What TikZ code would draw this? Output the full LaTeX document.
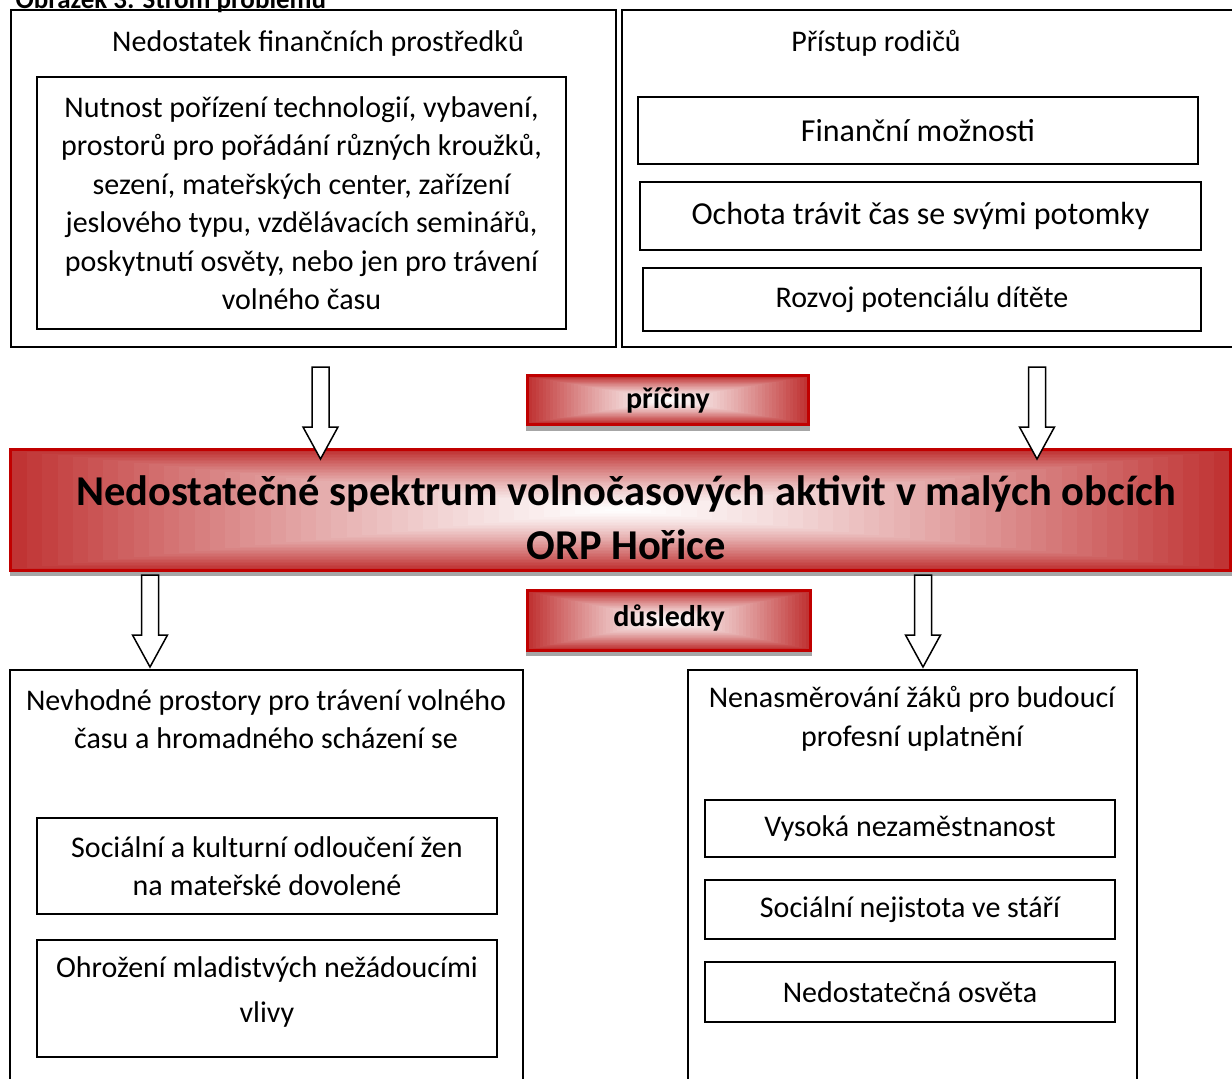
\documentclass[tikz,border=0pt]{standalone}
\usepackage{fontspec}
\setmainfont{Carlito}
\definecolor{bannerred}{RGB}{192,52,52}
\definecolor{bannerdark}{RGB}{192,0,0}
\definecolor{shadowgray}{RGB}{166,166,166}

\newcommand{\redbanner}[4]{%
    \fill[bannerdark] (#1,#2) rectangle (#3,#4);
    \foreach \i in {0,...,39} {
        \pgfmathsetmacro{\dx}{3+((#3-#1)/2-3)/40*\i}
        \pgfmathsetmacro{\dy}{3+((#4-#2)/2-3)/40*\i}
        \pgfmathsetmacro{\mix}{100*(1-\i/40)^1.3}
        \fill[bannerred!\mix!white] (#1+\dx,#2+\dy) rectangle (#3-\dx,#4-\dy);
    }
}

\tikzset{
    outerbox/.style={draw, line width=2pt, inner sep=0pt},
    innerbox/.style={draw, line width=1.6pt, inner sep=0pt, align=center,
        font=\fontsize{30}{38.5}\selectfont},
    boxtitle/.style={align=center, font=\fontsize{30}{38.5}\selectfont},
    bannertext/.style={align=center, font=\bfseries\fontsize{30}{34}\selectfont},
    arrowline/.style={draw, fill=white, line width=1.5pt, line join=miter},
    blockarrow/.pic={
        \draw[arrowline] (-8.5,0) -- (8.5,0) -- (8.5,60) -- (17.5,60) --
            (0,92) -- (-17.5,60) -- (-8.5,60) -- cycle;
    }
}

\begin{document}
\begin{tikzpicture}[x=1pt,y=-1pt]
    \useasboundingbox (0,0) rectangle (1232,1079);
    \node[anchor=base west, font=\bfseries\fontsize{27}{30}\selectfont] (caption) at (12,8)
        {Obrázek 3: Strom problému};

    % causes
    \node[outerbox, minimum width=605, minimum height=337] (causeL) at (313.5,178.5) {};
    \node[outerbox, minimum width=623, minimum height=337] (causeR) at (933.5,178.5) {};
    \node[boxtitle] (causeL-title) at (318,43) {Nedostatek finančních prostředků};
    \node[boxtitle] (causeR-title) at (876,43) {Přístup rodičů};
    \node[innerbox, minimum width=529, minimum height=252] (funds) at (301.5,203)
        {Nutnost pořízení technologií, vybavení,\\prostorů pro pořádání různých kroužků,\\
         sezení, mateřských center, zařízení\\jeslového typu, vzdělávacích seminářů,\\
         poskytnutí osvěty, nebo jen pro trávení\\volného času};
    \node[innerbox, minimum width=560, minimum height=67, font=\fontsize{32}{38}\selectfont]
        (finance) at (918,130.5) {Finanční možnosti};
    \node[innerbox, minimum width=561, minimum height=68, font=\fontsize{32}{38}\selectfont]
        (time) at (920.5,216) {Ochota trávit čas se svými potomky};
    \node[innerbox, line width=1.2pt, minimum width=558, minimum height=63]
        (potential) at (922,299.5) {Rozvoj potenciálu dítěte};

    % banners
    \fill[shadowgray] (526,378) rectangle (810,431);
    \redbanner{526}{374}{810}{426}
    \node[bannertext] (causes) at (668,400) {příčiny};
    \fill[shadowgray] (10,451) rectangle (1232,576);
    \redbanner{9}{448}{1232}{572}
    \node[bannertext, font=\bfseries\fontsize{42.5}{54}\selectfont] (problem) at (626,518)
        {Nedostatečné spektrum volnočasových aktivit v malých obcích\\ORP Hořice};
    \fill[shadowgray] (526,593) rectangle (812,656);
    \redbanner{526}{589}{812}{652}
    \node[bannertext] (effects) at (669,618) {důsledky};

    % arrows
    \coordinate (causeL-arrow) at (320.5,367);
    \coordinate (causeR-arrow) at (1037,367);
    \coordinate (effectL-arrow) at (150,575);
    \coordinate (effectR-arrow) at (923,575);
    \foreach \a in {causeL-arrow,causeR-arrow,effectL-arrow,effectR-arrow}
        \pic at (\a) {blockarrow};

    % effects
    \node[outerbox, minimum width=513, minimum height=430] (effectL) at (266.5,885) {};
    \node[outerbox, minimum width=449, minimum height=430] (effectR) at (912.5,885) {};
    \node[boxtitle] (effectL-title) at (266,719)
        {Nevhodné prostory pro trávení volného\\času a hromadného scházení se};
    \node[boxtitle] (effectR-title) at (912,719)
        {Nenasměrování žáků pro budoucí\\profesní uplatnění};
    \node[innerbox, line width=1.2pt, minimum width=460, minimum height=96] (isolation)
        at (267,866) {Sociální a kulturní odloučení žen\\na mateřské dovolené};
    \node[innerbox, line width=1.2pt, minimum width=460, minimum height=117,
        font=\fontsize{30}{45}\selectfont] (youth)
        at (267,998.5) {Ohrožení mladistvých nežádoucími\\vlivy\\[-28pt]};
    \node[innerbox, line width=1.2pt, minimum width=410, minimum height=57] (unemployment)
        at (910,828.5) {Vysoká nezaměstnanost};
    \node[innerbox, line width=1.2pt, minimum width=410, minimum height=59] (oldage)
        at (910,909.5) {Sociální nejistota ve stáří};
    \node[innerbox, line width=1.2pt, minimum width=410, minimum height=60] (awareness)
        at (910,992) {Nedostatečná osvěta};
\end{tikzpicture}
\end{document}
